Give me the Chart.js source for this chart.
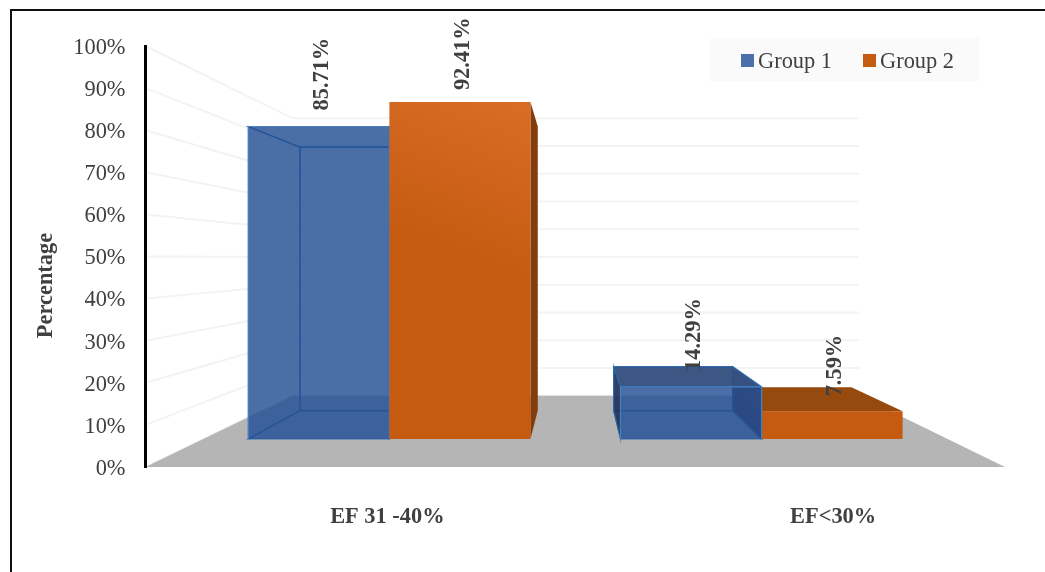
<!DOCTYPE html>
<html>
<head>
<meta charset="utf-8">
<title>EF by group</title>
<script src="https://cdn.jsdelivr.net/npm/chart.js@4/dist/chart.umd.min.js"></script>
<style>
    html, body { margin: 0; padding: 0; background: #fff; }
    canvas { display: block; }
</style>
</head>
<body>
<canvas id="chart" width="1045" height="572"></canvas>
<script>
const categories = ["EF 31 -40%", "EF<30%"];
const group1 = [85.71, 14.29];
const group2 = [92.41, 7.59];
const seriesNames = ["Group 1", "Group 2"];
const yTicks = [0, 10, 20, 30, 40, 50, 60, 70, 80, 90, 100];
const yTitle = "Percentage";

const SERIF = "'Liberation Serif', 'Times New Roman', serif";
const TEXT = "#404040";

// perspective of the 3D box: everything shrinks towards this point
const VANISH = { x: 577, y: 258 };
const DEPTH_BAR_FRONT = 0.134;
const DEPTH_BAR_BACK = 0.27;
const DEPTH_WALL = 0.341;

// category labels sit off-centre under the floor
const LABEL_SHIFT = [27, 43];
const LABEL_Y = 517;
// gap between a bar top and its value label, per series and category
const VALUE_GAP = [[16, 16], [12, 15]];

function project(x, y, depth) {
    return {
        x: VANISH.x + (x - VANISH.x) * (1 - depth),
        y: VANISH.y + (y - VANISH.y) * (1 - depth)
    };
}

function poly(ctx, pts, fill, stroke, lineWidth) {
    ctx.beginPath();
    pts.forEach((p, i) => i ? ctx.lineTo(p.x, p.y) : ctx.moveTo(p.x, p.y));
    ctx.closePath();
    if (fill) { ctx.fillStyle = fill; ctx.fill(); }
    if (stroke) { ctx.strokeStyle = stroke; ctx.lineWidth = lineWidth || 1; ctx.stroke(); }
}

function drawBox(ctx, bar, style, chart) {
    const l = bar.x - bar.width / 2, r = bar.x + bar.width / 2;
    const f = DEPTH_BAR_FRONT, b = DEPTH_BAR_BACK;
    const ftl = project(l, bar.y, f), ftr = project(r, bar.y, f);
    const fbl = project(l, bar.base, f), fbr = project(r, bar.base, f);
    const btl = project(l, bar.y, b), btr = project(r, bar.y, b);
    const bbl = project(l, bar.base, b), bbr = project(r, bar.base, b);
    const topVisible = btl.y < ftl.y;
    const leftVisible = l > VANISH.x;

    if (style.glass) {
        poly(ctx, [btl, btr, bbr, bbl], style.inner, style.edge, 1.2);
        poly(ctx, [fbl, fbr, bbr, bbl], style.inner, style.edge, 1.2);
        poly(ctx, [ftl, btl, bbl, fbl], leftVisible ? style.sliver : style.inner, style.edge, 1.2);
        poly(ctx, [ftr, btr, bbr, fbr], topVisible ? style.side : style.inner, style.edge, 1.2);
    } else {
        if (bar.x < VANISH.x) poly(ctx, [ftr, btr, bbr, fbr], style.side);
        else poly(ctx, [ftl, btl, bbl, fbl], style.side);
    }
    poly(ctx, [ftl, ftr, btr, btl], topVisible ? style.top : style.inner, style.glass ? style.edge : null, 1.2);

    let front = style.front;
    if (style.glow) {
        // front lightens towards the upper right on the tall bar only
        const area = chart.chartArea;
        const g = ctx.createLinearGradient(ftl.x, fbl.y, ftr.x, project(r, area.top, f).y);
        g.addColorStop(0, style.front);
        g.addColorStop(0.5, style.front);
        g.addColorStop(1, style.glow);
        front = g;
    }
    poly(ctx, [ftl, ftr, fbr, fbl], front);
    if (style.glass) {
        ctx.strokeStyle = style.rim;
        ctx.lineWidth = 1.2;
        ctx.beginPath();
        ctx.moveTo(fbl.x, fbl.y);
        ctx.lineTo(ftl.x, ftl.y);
        ctx.lineTo(ftr.x, ftr.y);
        ctx.lineTo(fbr.x, fbr.y);
        ctx.stroke();
    }
}

const boxStyles = [
    { glass: true, front: "rgba(34,78,147,0.80)", inner: "rgba(30,70,130,0.06)", side: "rgba(40,60,110,0.55)",
      sliver: "rgba(30,50,90,0.92)", top: "rgba(50,78,125,0.95)", edge: "rgba(45,105,170,0.85)", rim: "rgba(75,135,200,0.85)" },
    { glass: false, front: "#c55a11", glow: "#dc7029", side: "#843c0c", top: "#974a0d" }
];

const scene3d = {
    id: "scene3d",
    beforeDraw(chart) {
        const { ctx, chartArea: area, scales } = chart;

        // frame around the figure
        ctx.save();
        ctx.strokeStyle = "#111";
        ctx.lineWidth = 2;
        ctx.beginPath();
        ctx.moveTo(11, 572);
        ctx.lineTo(11, 10);
        ctx.lineTo(1045, 10);
        ctx.stroke();

        // side wall and back wall grid lines
        ctx.strokeStyle = "#f3f3f3";
        ctx.lineWidth = 2;
        scales.y.ticks.forEach(t => {
            const y = scales.y.getPixelForValue(t.value);
            const a = project(area.left, y, DEPTH_WALL);
            const b = project(area.right, y, DEPTH_WALL);
            ctx.beginPath();
            ctx.moveTo(area.left, y);
            ctx.lineTo(a.x, a.y);
            ctx.lineTo(b.x, b.y);
            ctx.stroke();
        });

        // floor
        poly(ctx, [
            { x: area.left, y: area.bottom },
            { x: area.right, y: area.bottom },
            project(area.right, area.bottom, DEPTH_WALL),
            project(area.left, area.bottom, DEPTH_WALL)
        ], "#b5b5b5");
        ctx.restore();
    },
    beforeDatasetsDraw(chart) {
        const { ctx, scales, chartArea: area } = chart;
        const bars = [];
        chart.data.datasets.forEach((ds, i) => {
            chart.getDatasetMeta(i).data.forEach((el, j) => {
                bars.push({ el, style: boxStyles[i], value: ds.data[j], gap: VALUE_GAP[i][j] });
            });
        });
        // the bar furthest from the vanishing point goes down first
        bars.sort((p, q) => Math.abs(q.el.x - VANISH.x) - Math.abs(p.el.x - VANISH.x));
        ctx.save();
        bars.forEach(b => drawBox(ctx, b.el, b.style, chart));

        // rotated value labels above each bar
        ctx.font = "bold 22.4px " + SERIF;
        ctx.fillStyle = TEXT;
        ctx.textAlign = "left";
        ctx.textBaseline = "middle";
        bars.forEach(b => {
            const top = project(b.el.x, b.el.y, DEPTH_BAR_FRONT);
            ctx.save();
            ctx.translate(top.x + 3, top.y - b.gap);
            ctx.rotate(-Math.PI / 2);
            ctx.fillText(b.value.toFixed(2) + "%", 0, 0);
            ctx.restore();
        });

        // category names and the value axis title
        ctx.textAlign = "center";
        categories.forEach((name, i) => {
            ctx.fillText(name, scales.x.getPixelForValue(i) + LABEL_SHIFT[i], LABEL_Y);
        });
        ctx.translate(46, (area.top + area.bottom) / 2 + 29);
        ctx.rotate(-Math.PI / 2);
        ctx.fillText(yTitle, 0, 0);
        ctx.restore();
        return false;
    },
    afterDraw(chart) {
        const { ctx } = chart;
        ctx.save();
        ctx.fillStyle = "#fafafa";
        ctx.fillRect(710, 38, 269, 43);
        ctx.font = "22.4px " + SERIF;
        ctx.textBaseline = "alphabetic";
        ctx.textAlign = "left";
        let x = 741;
        chart.data.datasets.forEach(ds => {
            ctx.fillStyle = ds.backgroundColor;
            ctx.fillRect(x, 54, 13, 13);
            ctx.fillStyle = TEXT;
            ctx.fillText(ds.label, x + 17, 68);
            x += 122;
        });
        ctx.restore();
    }
};

new Chart(document.getElementById("chart"), {
    type: "bar",
    data: {
        labels: categories,
        datasets: [
            { label: seriesNames[0], data: group1, backgroundColor: "#4a6fa9" },
            { label: seriesNames[1], data: group2, backgroundColor: "#c55a11" }
        ]
    },
    plugins: [scene3d],
    options: {
        responsive: false,
        animation: false,
        categoryPercentage: 0.758,
        barPercentage: 1,
        layout: { padding: { left: 0, right: 40, top: 46, bottom: 105 } },
        plugins: {
            legend: { display: false },
            tooltip: { enabled: false }
        },
        scales: {
            x: {
                ticks: { display: false },
                grid: { display: false },
                border: { display: false },
                afterFit(scale) { scale.height = 0; }
            },
            y: {
                min: 0,
                max: 100,
                afterFit(scale) { scale.width = 145.5; },
                afterBuildTicks(scale) { scale.ticks = yTicks.map(v => ({ value: v })); },
                grid: { display: false },
                border: { color: "#000", width: 3 },
                ticks: {
                    color: TEXT,
                    padding: 12,
                    labelOffset: 2,
                    font: { family: SERIF, size: 22.4 },
                    callback: v => v + "%"
                }
            }
        }
    }
});
</script>
</body>
</html>
